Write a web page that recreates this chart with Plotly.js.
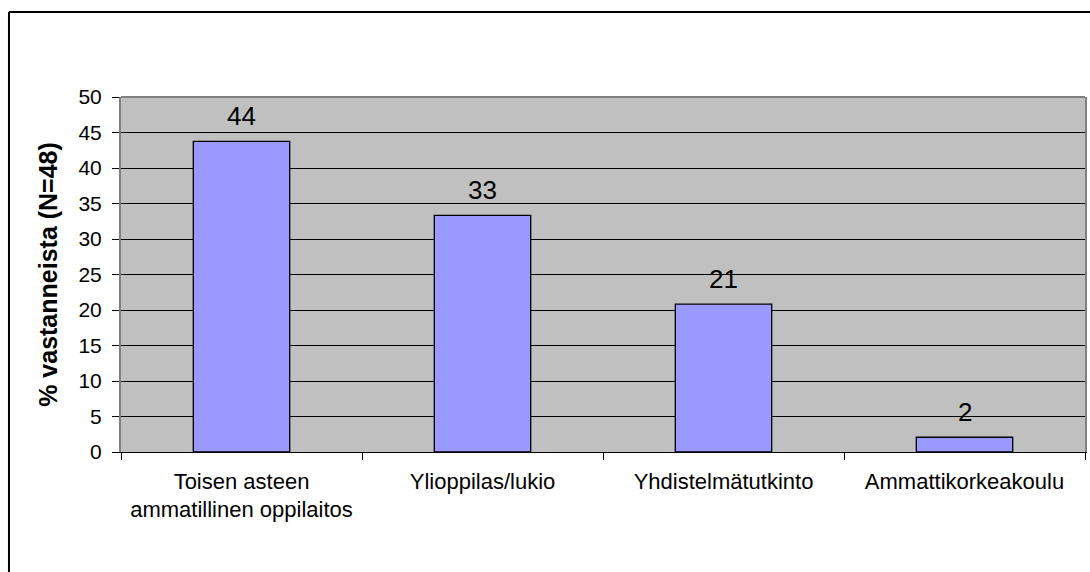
<!DOCTYPE html>
<html>
<head>
<meta charset="utf-8">
<script src="https://cdn.plot.ly/plotly-3.0.1.min.js"></script>
<style>
  html, body { margin: 0; padding: 0; background: #fff; }
  #chart { width: 1090px; height: 572px; }
</style>
</head>
<body>
<div id="chart"></div>
<script>
var categories = ['Toisen asteen<br>ammatillinen oppilaitos', 'Ylioppilas/lukio',
    'Yhdistelmätutkinto', 'Ammattikorkeakoulu'];
var percents = [43.75, 33.33, 20.83, 2.08];
var valueLabels = ['44', '33', '21', '2'];
var yTicks = [0, 5, 10, 15, 20, 25, 30, 35, 40, 45, 50];

var font = 'Liberation Sans, Arial, sans-serif';

var trace = {
    x: categories,
    y: percents,
    type: 'bar',
    width: 0.4,
    marker: {
        color: '#9999FF',
        line: { color: '#000000', width: 1.3 }
    },
    hoverinfo: 'x+y'
};

// value labels above the bars
var labels = categories.map(function (c, i) {
    return {
        x: c, y: percents[i], xref: 'x', yref: 'y',
        text: valueLabels[i], showarrow: false,
        yanchor: 'bottom', yshift: 8,
        font: { family: font, size: 26, color: '#000' }
    };
});

var layout = {
    width: 1090,
    height: 572,
    margin: { l: 121, r: 5, t: 97, b: 120 },
    paper_bgcolor: '#ffffff',
    plot_bgcolor: '#C0C0C0',
    showlegend: false,
    bargap: 0.6,
    font: { family: font, color: '#000' },
    xaxis: {
        type: 'category',
        tickson: 'boundaries',
        tickangle: 0,
        ticks: 'outside',
        ticklen: 7,
        tickcolor: '#000',
        showline: true,
        linecolor: '#000',
        linewidth: 1.3,
        showgrid: false,
        ticklabelstandoff: 9,
        tickfont: { family: font, size: 22, color: '#000' }
    },
    yaxis: {
        range: [0, 50],
        tickvals: yTicks,
        ticks: 'outside',
        ticklen: 7,
        tickcolor: '#000',
        showline: true,
        linecolor: '#808080',
        linewidth: 2,
        mirror: true,
        gridcolor: '#000000',
        gridwidth: 1,
        zeroline: false,
        ticklabelstandoff: 6,
        tickfont: { family: font, size: 21, color: '#000' },
        title: {
            text: '<b>% vastanneista (N=48)</b>',
            standoff: 14,
            font: { family: font, size: 25, color: '#000' }
        }
    },
    annotations: labels,
    shapes: [
        // chart frame (top and left edges)
        { type: 'line', xref: 'paper', yref: 'paper', x0: -0.1162, x1: -0.1162,
          y0: -0.5, y1: 1.2394, line: { color: '#000', width: 2 } },
        { type: 'line', xref: 'paper', yref: 'paper', x0: -0.1162, x1: 1.1,
          y0: 1.2394, y1: 1.2394, line: { color: '#000', width: 2 } },
        // plot area top edge
        { type: 'line', xref: 'paper', yref: 'paper', x0: 0, x1: 1,
          y0: 1, y1: 1, line: { color: '#808080', width: 2 } }
    ]
};

Plotly.newPlot('chart', [trace], layout, { displayModeBar: false });
</script>
</body>
</html>
